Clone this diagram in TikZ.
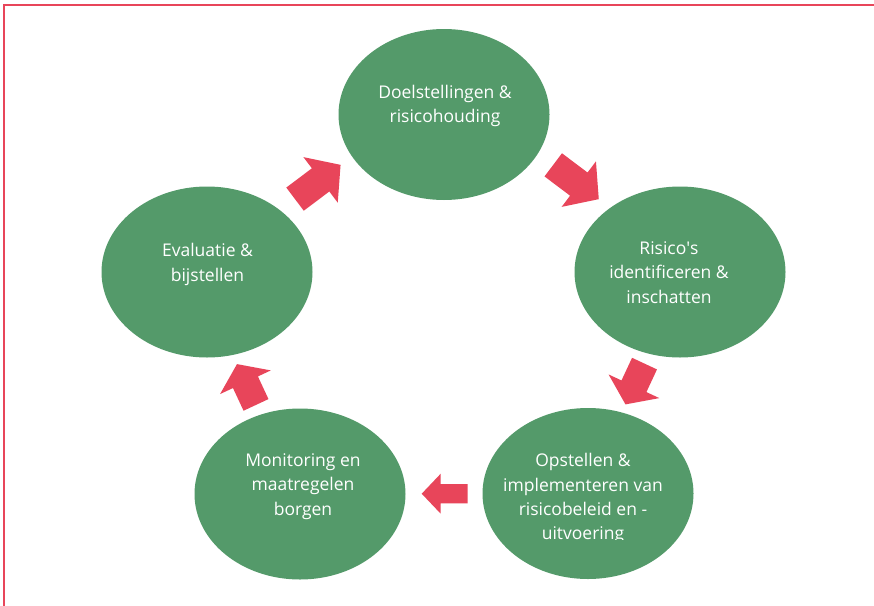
\documentclass[tikz,border=0pt]{standalone}
\usepackage{fontspec}
\setmainfont{Open Sans}
\usetikzlibrary{shapes.geometric}
\definecolor{cyclegreen}{RGB}{84,154,106}
\definecolor{cyclered}{RGB}{232,69,90}
\tikzset{
  blob/.style={ellipse, fill=cyclegreen, draw=none, minimum width=211pt, minimum height=171pt, inner sep=0pt},
  lbl/.style={text=white, align=center, inner sep=0pt, anchor=base, font=\fontsize{17.5}{24.3}\selectfont},
  blockarrow/.style={fill=cyclered, draw=none},
  borderline/.style={draw=cyclered, line width=2pt, line cap=rect}
}
% arrow pointing +x, centered; #1 length, #2 shaft, #3 head width, #4 head length
\newcommand{\blockarrowpath}[4]{%
  (-#1/2,#2/2) -- (#1/2-#4,#2/2) -- (#1/2-#4,#3/2) -- (#1/2,0) -- (#1/2-#4,-#3/2) -- (#1/2-#4,-#2/2) -- (-#1/2,-#2/2) -- cycle}
\begin{document}
\begin{tikzpicture}[x=1pt,y=-1pt]
\useasboundingbox (0,0) rectangle (874,605);
\fill[white] (0,0) rectangle (874,605);
\draw[borderline] (3.5,606) -- (3.5,5.3) -- (875,5.3);

% nodes
\node[blob] (n1) at (444,114.5) {};
\node[blob] (n2) at (680,272) {};
\node[blob] (n3) at (588,493.5) {};
\node[blob] (n4) at (300,494) {};
\node[blob] (n5) at (207,272) {};

\node[lbl] (t1) at (445,122.6) {Doelstellingen \&\\risicohouding};
\node[lbl] (t2) at (669,303.1) {Risico\textquotesingle s\\identificeren \&\\inschatten};
\begin{scope}
\clip (0,0) rectangle (874,539.8);
\node[lbl] (t3) at (583,539.6) {Opstellen \&\\implementeren van\\risicobeleid en -\\uitvoering};
\end{scope}
\node[lbl] (t4) at (303,515.1) {Monitoring en\\maatregelen\\borgen};
\node[lbl] (t5) at (207.5,281) {Evaluatie \&\\bijstellen};

% arrows
\coordinate (a12) at (576,182);
\coordinate (a23) at (635,384);
\coordinate (a34) at (444.7,493.7);
\coordinate (a45) at (246.5,384.5);
\coordinate (a51) at (317.8,182);
\fill[blockarrow, shift={(a12)}, rotate=-37] \blockarrowpath{57}{29}{57}{25};
\fill[blockarrow, shift={(a23)}, rotate=-115] \blockarrowpath{45}{27.5}{56}{20};
\fill[blockarrow, shift={(a34)}, rotate=180] \blockarrowpath{46}{19.3}{40}{19};
\fill[blockarrow, shift={(a45)}, rotate=115] \blockarrowpath{45}{27.5}{56}{20};
\fill[blockarrow, shift={(a51)}, rotate=37] \blockarrowpath{57}{29}{57}{25};
\end{tikzpicture}
\end{document}
